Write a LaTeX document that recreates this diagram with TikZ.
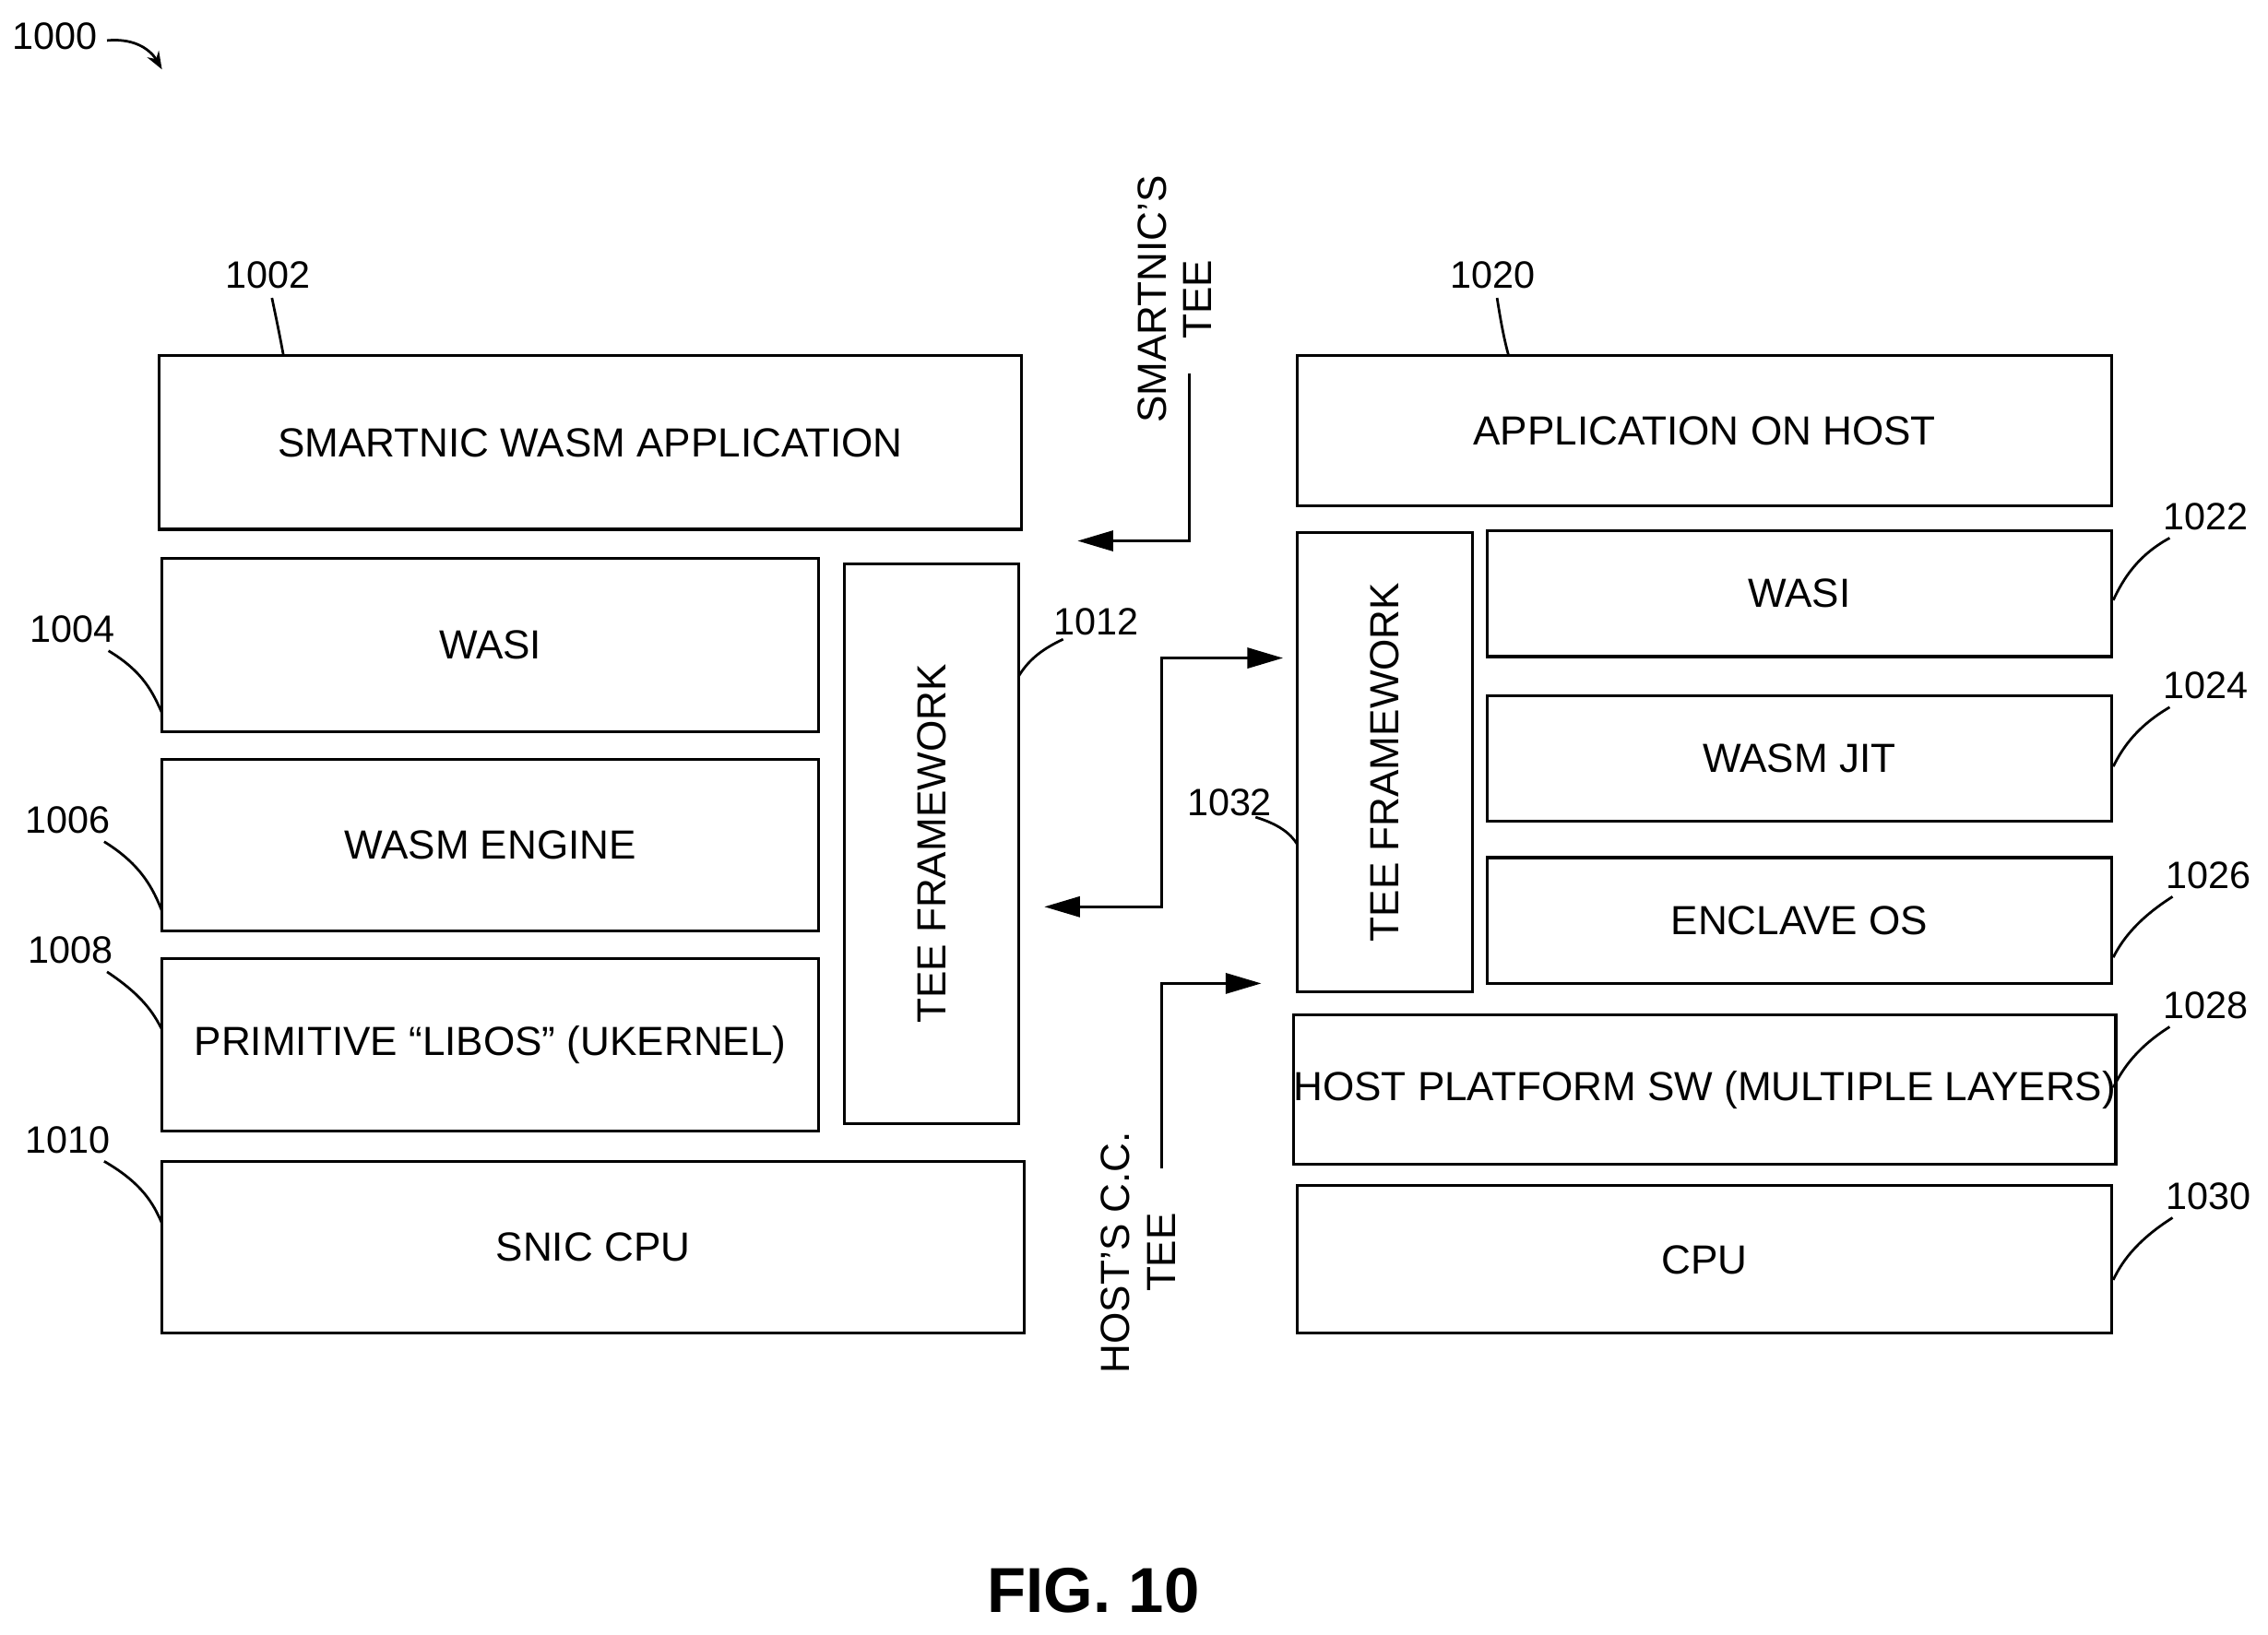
\documentclass[tikz,border=0pt]{standalone}
\usepackage{fontspec}
\setmainfont{Liberation Sans}
\usetikzlibrary{arrows.meta}
\newcommand\bx[7][]{\node[box,#1,minimum width={(#4-#2)*0.02cm},minimum height={(#5-#3)*0.02cm}] (#6) at ({(#2+#4)/2},{(#3+#5)/2}) {#7};}
\newcommand\vbx[6]{\node[box,rotate=90,minimum width={(#4-#2)*0.02cm},minimum height={(#5-#3)*0.02cm}] (#6) at ({(#2+#4)/2},{(#3+#5)/2}) {};\node[txt,rotate=90] (#6t) at (#6.center) {TEE FRAMEWORK};}
\begin{document}
\begin{tikzpicture}[x=0.02cm,y=-0.02cm,
 box/.style={draw,line width=1.1pt,inner sep=0pt,font=\fontsize{16}{18}\selectfont},
 txt/.style={font=\fontsize{16}{18}\selectfont,inner sep=0pt},
 lbl/.style={font=\fontsize{15}{17}\selectfont,inner sep=1pt},
 ld/.style={line width=1pt},
 ar/.style={line width=1.1pt,-{Triangle[length=14pt,width=8pt]}}]
\useasboundingbox (0,0) rectangle (1568,1130);
\bx{110}{246}{706}{366}{a1}{SMARTNIC WASM APPLICATION}
\bx{112}{386}{566}{506}{a2}{WASI}
\bx{112}{525}{566}{644}{a3}{WASM ENGINE}
\bx{112}{663}{566}{782}{a4}{PRIMITIVE “LIBOS” (UKERNEL)}
\bx{112}{803}{708}{922}{a5}{SNIC CPU}
\node[box,minimum width={(777-390)*0.02cm},minimum height={(704-584)*0.02cm},rotate=90] (a6) at (644,583.5) {TEE FRAMEWORK};
\bx{897}{246}{1460}{350}{b1}{APPLICATION ON HOST}
\node[box,minimum width={(686-368)*0.02cm},minimum height={(1018-897)*0.02cm},rotate=90] (b2) at (957.5,527) {TEE FRAMEWORK};
\bx{1028}{367}{1460}{454}{b3}{WASI}
\bx{1028}{481}{1460}{568}{b4}{WASM JIT}
\bx{1028}{593}{1460}{680}{b5}{ENCLAVE OS}
\bx{897}{702}{1460}{805}{b6}{HOST PLATFORM SW (MULTIPLE LAYERS)}
\bx{897}{820}{1460}{922}{b7}{CPU}
% side labels
\node[txt,rotate=90,align=center] (t1) at (812,207) {SMARTNIC’S\\TEE};
\node[txt,rotate=90,align=center] (t2) at (787,866) {HOST’S C.C.\\TEE};
\coordinate (p1) at (822,258); \coordinate (p2) at (745,374);
\draw[ar] (p1) |- (p2);
\coordinate (q1) at (722,627); \coordinate (q2) at (887,455);
\draw[ar,{Triangle[length=14pt,width=8pt]}-{Triangle[length=14pt,width=8pt]}] (q1) -| (803,541) |- (q2);
\coordinate (r1) at (803,808); \coordinate (r2) at (872,680);
\draw[ar] (r1) |- (r2);
% reference labels
\node[lbl] (n1000) at (38,25) {1000};
\coordinate (e1000) at (112,48);
\draw[ld,-{Stealth[length=7pt]}] (74,28) .. controls (95,26) and (105,36) .. (e1000);
\node[lbl] (n1002) at (185,190) {1002};
\draw[ld] (188,206) .. controls (192,225) and (194,235) .. (196,246);
\node[lbl] (n1020) at (1032,190) {1020};
\draw[ld] (1035,206) .. controls (1038,225) and (1040,235) .. (1043,246);
\node[lbl] (n1004) at (50,435) {1004};
\draw[ld] (75,450) .. controls (100,465) and (106,480) .. (112,493);
\node[lbl] (n1006) at (47,567) {1006};
\draw[ld] (72,582) .. controls (98,598) and (106,615) .. (112,630);
\node[lbl] (n1008) at (49,657) {1008};
\draw[ld] (74,672) .. controls (98,688) and (106,700) .. (112,712);
\node[lbl] (n1010) at (47,788) {1010};
\draw[ld] (72,803) .. controls (98,818) and (106,832) .. (112,846);
\node[lbl] (n1012) at (758,430) {1012};
\draw[ld] (735,442) .. controls (718,450) and (710,458) .. (704,468);
\node[lbl] (n1032) at (850,555) {1032};
\draw[ld] (868,565) .. controls (884,570) and (892,576) .. (897,584);
\node[lbl] (n1022) at (1525,357) {1022};
\draw[ld] (1500,372) .. controls (1478,384) and (1468,400) .. (1461,415);
\node[lbl] (n1024) at (1525,474) {1024};
\draw[ld] (1500,489) .. controls (1478,502) and (1468,516) .. (1461,530);
\node[lbl] (n1026) at (1527,605) {1026};
\draw[ld] (1502,620) .. controls (1480,634) and (1468,648) .. (1461,662);
\node[lbl] (n1028) at (1525,695) {1028};
\draw[ld] (1500,710) .. controls (1478,724) and (1468,738) .. (1461,752);
\node[lbl] (n1030) at (1527,827) {1030};
\draw[ld] (1502,842) .. controls (1480,856) and (1468,870) .. (1461,885);
\node[font=\fontsize{25}{28}\selectfont\bfseries] (fig) at (756,1100) {FIG. 10};
\end{tikzpicture}
\end{document}
